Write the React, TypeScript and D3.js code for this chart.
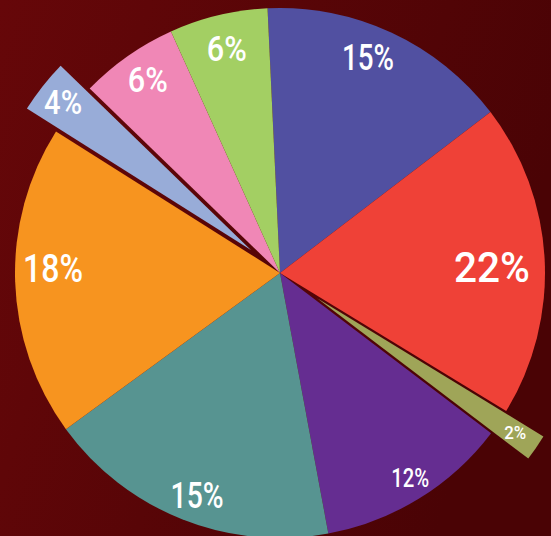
import React from "react";
import * as d3 from "d3";

// ---- data (shares; labels as printed) ----
const categories = ["A", "B", "C", "D", "E", "F", "G", "H", "I"];
const shares = [15.36, 19.11, 1.61, 11.75, 17.89, 19.0, 3.28, 6.0, 6.0];
const labels = ["15%", "22%", "2%", "12%", "15%", "18%", "4%", "6%", "6%"];

// ---- styling / layout ----
const colors = ["#5150a1", "#ef4137", "#9fa558", "#652d91", "#579491", "#f7941f", "#98acd8", "#f087b6", "#a3cf63"];
const explode = [0, 0, 45, 0, 0, 0, 37, 0, 0];
const labelRadius = [233, 212, 284, 243, 237, 227, 276, 234, 231];
const labelAngleShift = [-2.75, 1.2, -0.2, -0.75, -1.2, 3.2, 0, 0.7, 0.2];
const fontSizes = [36, 43, 19, 26, 36, 39, 34, 35, 35];
const labelWidths = [52, 76, 22, 38, 53, 60, 38, 40, 40];

const W = 551;
const H = 536;
const cx = 280;
const cy = 273;
const R = 265;
const startDeg = -2.7;

export default function App() {
  const pie = d3
    .pie<number>()
    .sort(null)
    .value((d) => d)
    .startAngle((startDeg * Math.PI) / 180)
    .endAngle(((startDeg + 360) * Math.PI) / 180);
  const arcs = pie(shares);
  const arc = d3.arc<d3.PieArcDatum<number>>().innerRadius(0).outerRadius(R);

  return (
    <svg
      width={W}
      height={H}
      style={{ position: "absolute", left: 0, top: 0, display: "block" }}
    >
      <defs>
        <linearGradient id="bg" x1="0" y1="0" x2="1" y2="0.3">
          <stop offset="0" stopColor="#660709" />
          <stop offset="1" stopColor="#4a0305" />
        </linearGradient>
      </defs>
      <rect x={0} y={0} width={W} height={H} fill="url(#bg)" />
      <g transform={`translate(${cx},${cy})`}>
        {arcs.map((a, i) => {
          const mid = (a.startAngle + a.endAngle) / 2;
          const ox = Math.sin(mid) * explode[i];
          const oy = -Math.cos(mid) * explode[i];
          return (
            <path
              key={categories[i]}
              d={arc(a) || ""}
              fill={colors[i]}
              transform={`translate(${ox},${oy})`}
            />
          );
        })}
        {arcs.map((a, i) => {
          const mid = (a.startAngle + a.endAngle) / 2 + (labelAngleShift[i] * Math.PI) / 180;
          const x = Math.sin(mid) * labelRadius[i];
          const y = -Math.cos(mid) * labelRadius[i];
          const fs = fontSizes[i];
          return (
            <text
              key={"l" + i}
              x={x}
              y={y + fs * 0.355}
              textAnchor="middle"
              fill="#ffffff"
              fontFamily="Roboto, 'Open Sans', sans-serif"
              fontStyle="normal"
              fontWeight={500}
              fontSize={fs}
              textLength={labelWidths[i]}
              lengthAdjust="spacingAndGlyphs"
            >
              {labels[i]}
            </text>
          );
        })}
      </g>
    </svg>
  );
}
